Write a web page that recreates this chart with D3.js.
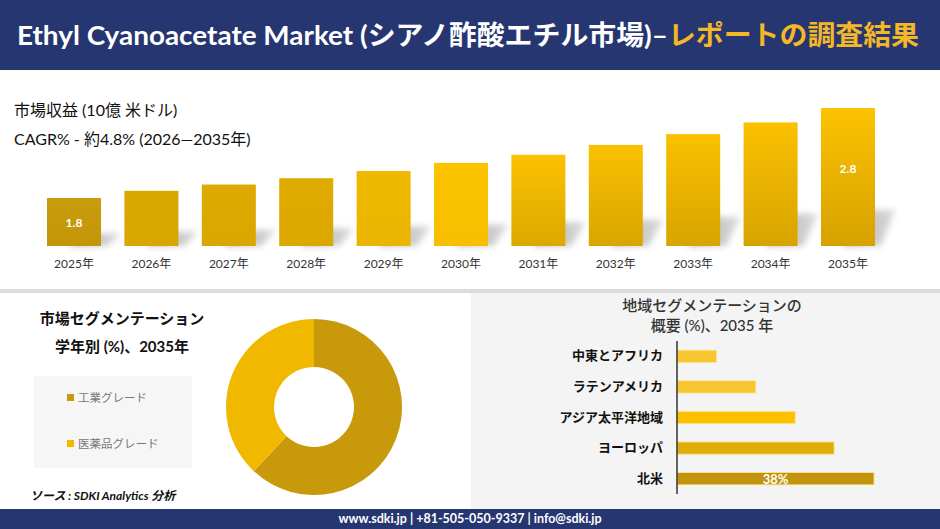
<!DOCTYPE html>
<html>
<head>
<meta charset="utf-8">
<script src="https://cdn.jsdelivr.net/npm/d3@7"></script>
<style>
  body { margin: 0; background: #fff; }
  svg { display: block; font-family: Lato, "Noto Sans CJK JP", sans-serif; }
</style>
</head>
<body>
<svg id="chart" width="940" height="529"></svg>
<script>
// market size by year (billion USD)
var years = ["2025年","2026年","2027年","2028年","2029年","2030年","2031年","2032年","2033年","2034年","2035年"];
var revenue = [1.8, 1.88, 1.95, 2.02, 2.1, 2.19, 2.28, 2.39, 2.51, 2.64, 2.8];
var shownLabels = ["1.8", "", "", "", "", "", "", "", "", "", "2.8"];

// grade segmentation 2035 (%)
var grades = ["工業グレード", "医薬品グレード"];
var gradeShare = [62, 38];

// region segmentation 2035 (%)
var regions = ["中東とアフリカ", "ラテンアメリカ", "アジア太平洋地域", "ヨーロッパ", "北米"];
var regionShare = [7.6, 15.2, 22.8, 30.3, 38];
var regionLabels = ["", "", "", "", "38%"];

var svg = d3.select("#chart");
var defs = svg.append("defs");

// header
svg.append("rect").attr("x", 0).attr("y", 0).attr("width", 940).attr("height", 70).attr("fill", "#263670");
var title = svg.append("text")
    .attr("x", 468).attr("y", 45)
    .attr("text-anchor", "middle")
    .attr("textLength", 902).attr("lengthAdjust", "spacingAndGlyphs")
    .style("font-size", "27px").style("font-weight", "bold");
title.append("tspan").attr("fill", "#fff").text("Ethyl Cyanoacetate Market (シアノ酢酸エチル市場)–");
title.append("tspan").attr("fill", "#f4b728").text("レポートの調査結果");

svg.append("text").attr("x", 14).attr("y", 116)
    .style("font-size", "16px").attr("fill", "#111")
    .text("市場収益 (10億 米ドル)");
svg.append("text").attr("x", 14).attr("y", 145)
    .style("font-size", "16px").attr("fill", "#111")
    .text("CAGR% - 約4.8% (2026—2035年)");

// ---- top bar chart
var x = d3.scaleBand().domain(years).range([47, 875]).paddingInner(0.302).paddingOuter(0);
var y = d3.scaleLinear().domain([1.267, 2.8]).range([246, 108]);

var blur = defs.append("filter").attr("id", "blur").attr("x", "-50%").attr("y", "-50%").attr("width", "200%").attr("height", "200%");
blur.append("feGaussianBlur").attr("stdDeviation", 3);

var shadowGrad = defs.append("linearGradient").attr("id", "shgrad").attr("x1", 0).attr("x2", 1).attr("y1", 0).attr("y2", 0);
shadowGrad.append("stop").attr("offset", "0%").attr("stop-color", "#a0a0a0");
shadowGrad.append("stop").attr("offset", "100%").attr("stop-color", "#d4d4d4");

var barTop = ["#c99c0c","#d9a702","#dcaa00","#e0ab00","#f0b900","#fcc300","#fcc200","#fbc000","#fbc000","#fbc000","#fcc200"];
var barBot = ["#c3960a","#d8a600","#d9a700","#dba800","#eab500","#f8bf00","#dca800","#d8a500","#d8a400","#d7a300","#d6a200"];
years.forEach(function(d, i) {
    var g = defs.append("linearGradient").attr("id", "bg" + i).attr("x1", 0).attr("x2", 0).attr("y1", 0).attr("y2", 1);
    g.append("stop").attr("offset", "0%").attr("stop-color", barTop[i]);
    g.append("stop").attr("offset", "100%").attr("stop-color", barBot[i]);
});

var base = y.range()[0];
svg.append("g").selectAll("polygon")
    .data(revenue)
    .enter()
    .append("polygon")
    .attr("points", function(d, i) {
        var x0 = x(years[i]), w = x.bandwidth();
        var sh = (base - y(d)) * 0.26;
        return [[x0 + w * 0.4, base], [x0 + w + 6, base], [x0 + w + 20, base - sh], [x0 + w * 0.4 + 14, base - sh]].join(" ");
    })
    .attr("fill", "url(#shgrad)")
    .attr("opacity", 0.85)
    .attr("filter", "url(#blur)");

svg.append("g").selectAll("rect")
    .data(revenue)
    .enter()
    .append("rect")
    .attr("x", function(d, i) { return x(years[i]); })
    .attr("y", function(d) { return y(d); })
    .attr("width", x.bandwidth())
    .attr("height", function(d) { return base - y(d); })
    .attr("fill", function(d, i) { return "url(#bg" + i + ")"; });

svg.append("g").selectAll("text")
    .data(revenue)
    .enter()
    .append("text")
    .attr("x", function(d, i) { return x(years[i]) + x.bandwidth() / 2; })
    .attr("y", function(d) { return y(d) + Math.min((base - y(d)) / 2, 60) + 5; })
    .attr("text-anchor", "middle")
    .attr("fill", "#fff")
    .style("font-size", "12px").style("font-weight", "bold")
    .text(function(d, i) { return shownLabels[i]; });

var xAxis = svg.append("g")
    .attr("transform", "translate(0," + (base + 10) + ")")
    .call(d3.axisBottom(x).tickSize(0));
xAxis.select(".domain").remove();
xAxis.selectAll("text")
    .attr("fill", "#333")
    .style("font-family", "Lato, 'Noto Sans CJK JP', sans-serif")
    .style("font-size", "12px");

// ---- bottom panels
svg.append("rect").attr("x", 0).attr("y", 289).attr("width", 940).attr("height", 4).attr("fill", "#dcdcdc");
svg.append("rect").attr("x", 471).attr("y", 293).attr("width", 469).attr("height", 216).attr("fill", "#f4f4f4");

// left: donut
svg.append("text").attr("x", 122).attr("y", 324).attr("text-anchor", "middle")
    .style("font-size", "15px").style("font-weight", "bold").attr("fill", "#111")
    .text("市場セグメンテーション");
svg.append("text").attr("x", 122).attr("y", 352).attr("text-anchor", "middle")
    .style("font-size", "15px").style("font-weight", "bold").attr("fill", "#111")
    .text("学年別 (%)、2035年");

var gradeColor = d3.scaleOrdinal().domain(grades).range(["#c8990b", "#f1b800"]);

svg.append("rect").attr("x", 34).attr("y", 376).attr("width", 158).attr("height", 92).attr("fill", "#f6f6f6");
var legend = svg.append("g").selectAll("g")
    .data(grades)
    .enter()
    .append("g")
    .attr("transform", function(d, i) { return "translate(67," + (398 + i * 46) + ")"; });
legend.append("rect").attr("x", 0).attr("y", -4).attr("width", 7).attr("height", 7)
    .attr("fill", function(d) { return gradeColor(d); });
legend.append("text").attr("x", 11).attr("y", 4)
    .style("font-size", "11.5px").attr("fill", "#777")
    .text(function(d) { return d; });

var pie = d3.pie().sort(null).value(function(d) { return d; });
var arc = d3.arc().innerRadius(40).outerRadius(88);
svg.append("g")
    .attr("transform", "translate(314,407)")
    .selectAll("path")
    .data(pie(gradeShare))
    .enter()
    .append("path")
    .attr("d", arc)
    .attr("fill", function(d, i) { return gradeColor(grades[i]); });

svg.append("text").attr("x", 30).attr("y", 500)
    .style("font-size", "12px").style("font-style", "italic").style("font-weight", "bold").attr("fill", "#111")
    .text("ソース : SDKI Analytics 分析");

// right: region bars
svg.append("text").attr("x", 712).attr("y", 311).attr("text-anchor", "middle")
    .style("font-size", "15px").style("font-weight", 500).attr("fill", "#333")
    .text("地域セグメンテーションの");
svg.append("text").attr("x", 712).attr("y", 331).attr("text-anchor", "middle")
    .style("font-size", "15px").style("font-weight", 500).attr("fill", "#333")
    .text("概要 (%)、2035 年");

var rx = d3.scaleLinear().domain([0, 38]).range([677, 874]);
var ry = d3.scaleBand().domain(regions).range([341, 494]).paddingInner(0.6).paddingOuter(0.3);
var regionColor = ["#f8c630", "#f8c630", "#fdc000", "#e1ac0a", "#c2930e"];

svg.append("g").selectAll("rect")
    .data(regionShare)
    .enter()
    .append("rect")
    .attr("x", rx(0))
    .attr("y", function(d, i) { return ry(regions[i]); })
    .attr("width", function(d) { return rx(d) - rx(0); })
    .attr("height", ry.bandwidth())
    .attr("fill", function(d, i) { return regionColor[i]; })
    .attr("stroke", "#fde58a").attr("stroke-width", 0.8);

svg.append("g").selectAll("text")
    .data(regionShare)
    .enter()
    .append("text")
    .attr("x", function(d) { return (rx(0) + rx(d)) / 2; })
    .attr("y", function(d, i) { return ry(regions[i]) + ry.bandwidth() / 2 + 5; })
    .attr("text-anchor", "middle")
    .attr("fill", "#fff")
    .style("font-size", "13px").style("font-weight", "bold")
    .text(function(d, i) { return regionLabels[i]; });

var yAxis = svg.append("g")
    .attr("transform", "translate(677,0)")
    .call(d3.axisLeft(ry).tickSize(0).tickPadding(14));
yAxis.select(".domain").remove();
yAxis.selectAll("text")
    .attr("fill", "#111")
    .style("font-family", "'Noto Sans CJK JP', sans-serif")
    .style("font-size", "13px").style("font-weight", "bold");
svg.append("line").attr("x1", 677).attr("x2", 677).attr("y1", 341).attr("y2", 494)
    .attr("stroke", "#333").attr("stroke-width", 1.5);

// footer
svg.append("rect").attr("x", 0).attr("y", 509).attr("width", 940).attr("height", 20).attr("fill", "#263670");
svg.append("text").attr("x", 470).attr("y", 523).attr("text-anchor", "middle")
    .style("font-size", "12.5px").style("font-weight", "bold").attr("fill", "#fff")
    .text("www.sdki.jp | +81-505-050-9337 | info@sdki.jp");
</script>
</body>
</html>
